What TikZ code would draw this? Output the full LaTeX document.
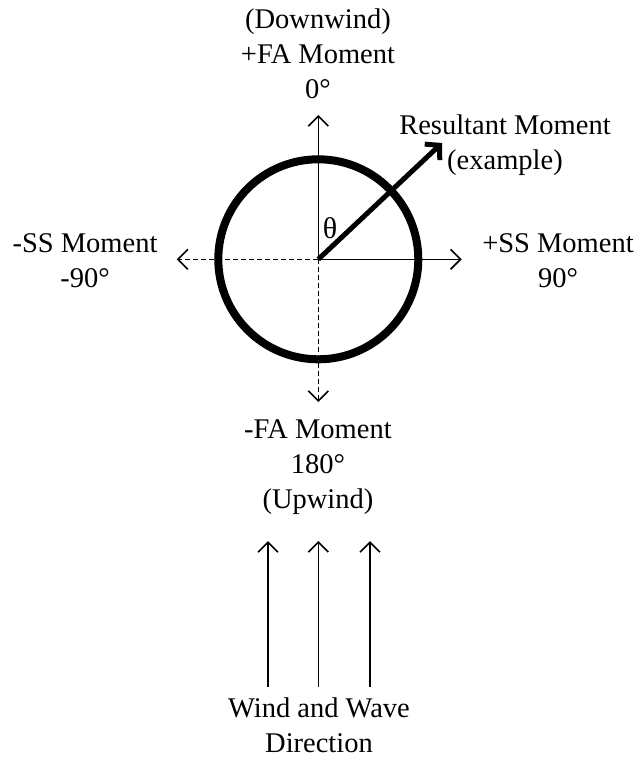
\documentclass[tikz,border=0pt]{standalone}
\usepackage{fontspec}
\setmainfont{Liberation Serif}
\usetikzlibrary{arrows.meta}
\begin{document}
\begin{tikzpicture}[x=1pt,y=-1pt,
  lbl/.style={align=center,inner sep=0pt,font=\fontsize{28.5}{35}\selectfont},
  thin/.style={line width=1.6pt},
  openarrow/.style={thin,-{Straight Barb[length=10pt,width=20pt]}},
  dasharrow/.style={openarrow,dash pattern=on 5pt off 3pt},
  resarrow/.style={line width=5pt,-{Straight Barb[length=10pt,width=22pt]}},
  ring/.style={line width=8pt}]
\useasboundingbox (0,0) rectangle (638,758);
\coordinate (O) at (318.3,259.3);
\coordinate (up) at (318.3,115);
\coordinate (right) at (461.7,259.3);
\coordinate (left) at (176.7,259.3);
\coordinate (down) at (318.3,402);
\coordinate (res) at (442,143);
\draw[ring] (O) circle[radius=100];
\draw[openarrow] (O) -- (up);
\draw[openarrow] (O) -- (right);
\draw[dasharrow] (O) -- (left);
\draw[dasharrow] (O) -- (down);
\draw[resarrow] (O) -- (res);
\node[inner sep=0pt,font=\fontsize{30}{34}\selectfont] (theta) at (330,228) {θ};
\node[lbl] (top) at (318,54) {(Downwind)\\+FA Moment\\0°};
\node[lbl] (reslbl) at (505,145.5) {Resultant Moment\\(example)};
\node[lbl] (ssneg) at (85,260.5) {-SS Moment\\-90°};
\node[lbl] (sspos) at (558,260.5) {+SS Moment\\90°};
\node[lbl] (bottom) at (318,467.5) {-FA Moment\\180°\\(Upwind)};
\node[lbl] (wind) at (319,725) {Wind and Wave\\Direction};
\coordinate (w1a) at (268,687); \coordinate (w1b) at (268,541);
\coordinate (w2a) at (318.3,687); \coordinate (w2b) at (318.3,541);
\coordinate (w3a) at (370,687); \coordinate (w3b) at (370,541);
\draw[openarrow] (w1a) -- (w1b);
\draw[openarrow] (w2a) -- (w2b);
\draw[openarrow] (w3a) -- (w3b);
\end{tikzpicture}
\end{document}
